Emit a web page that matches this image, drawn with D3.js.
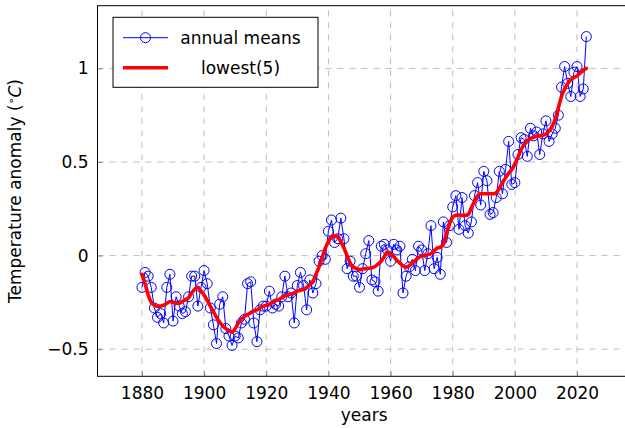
<!DOCTYPE html>
<html><head><meta charset="utf-8">
<script src="https://cdn.jsdelivr.net/npm/d3@7"></script>
<style>body{margin:0;background:#fff}svg{display:block}</style>
</head><body>
<svg id="c" width="625" height="428"></svg>
<script>
const firstYear = 1880;
const annualMeans = [
-0.17,-0.09,-0.11,-0.17,-0.28,-0.33,-0.31,-0.36,-0.17,-0.10,
-0.35,-0.22,-0.27,-0.31,-0.30,-0.22,-0.11,-0.11,-0.27,-0.17,
-0.08,-0.15,-0.28,-0.37,-0.47,-0.26,-0.22,-0.39,-0.43,-0.48,
-0.43,-0.44,-0.36,-0.34,-0.15,-0.14,-0.36,-0.46,-0.29,-0.27,
-0.27,-0.19,-0.28,-0.26,-0.27,-0.22,-0.11,-0.22,-0.20,-0.36,
-0.16,-0.09,-0.16,-0.29,-0.13,-0.20,-0.15,-0.03,-0.00,-0.02,
0.13,0.19,0.07,0.09,0.20,0.09,-0.07,-0.03,-0.11,-0.11,
-0.17,-0.07,0.01,0.08,-0.13,-0.14,-0.19,0.05,0.06,0.03,
-0.03,0.06,0.03,0.05,-0.20,-0.11,-0.06,-0.02,-0.08,0.05,
0.03,-0.08,0.01,0.16,-0.07,-0.01,-0.10,0.18,0.07,0.16,
0.26,0.32,0.14,0.31,0.16,0.12,0.18,0.32,0.39,0.27,
0.45,0.40,0.22,0.23,0.31,0.45,0.33,0.46,0.61,0.38,
0.39,0.54,0.63,0.62,0.53,0.68,0.64,0.66,0.54,0.65,
0.72,0.61,0.65,0.68,0.75,0.90,1.01,0.92,0.85,0.98,
1.01,0.85,0.89,1.17];
const lowessValues = [
-0.10,-0.15,-0.21,-0.25,-0.265,-0.27,-0.27,-0.265,-0.255,-0.245,
-0.25,-0.255,-0.255,-0.245,-0.235,-0.225,-0.20,-0.18,-0.17,-0.19,
-0.21,-0.24,-0.27,-0.30,-0.33,-0.355,-0.375,-0.39,-0.40,-0.41,
-0.39,-0.36,-0.34,-0.325,-0.315,-0.305,-0.295,-0.29,-0.28,-0.27,
-0.265,-0.26,-0.25,-0.24,-0.235,-0.225,-0.215,-0.21,-0.205,-0.20,
-0.19,-0.185,-0.18,-0.17,-0.155,-0.14,-0.10,-0.06,-0.01,0.04,
0.075,0.10,0.105,0.10,0.075,0.04,0.00,-0.04,-0.06,-0.07,
-0.075,-0.072,-0.07,-0.068,-0.065,-0.058,-0.045,-0.03,-0.005,0.02,
0.01,-0.005,-0.025,-0.04,-0.055,-0.062,-0.055,-0.04,-0.025,-0.01,
-0.002,0.0,0.005,0.01,0.025,0.04,0.045,0.06,0.12,0.17,
0.205,0.215,0.217,0.215,0.215,0.22,0.255,0.29,0.32,0.33,
0.33,0.33,0.33,0.33,0.335,0.36,0.39,0.415,0.44,0.46,
0.49,0.525,0.565,0.595,0.615,0.625,0.632,0.637,0.64,0.643,
0.65,0.665,0.69,0.73,0.79,0.85,0.89,0.92,0.94,0.952,
0.96,0.975,0.99,1.00];
const years = annualMeans.map((_, i) => firstYear + i);
const xTicks = [1880, 1900, 1920, 1940, 1960, 1980, 2000, 2020];
const yTicks = [-0.5, 0, 0.5, 1];
const legendLabels = ["annual means", "lowest(5)"];

const FONT = "DejaVu Sans";
const FS = 17;
const svg = d3.select("#c");
const L = 97.5, R = 630.8, T = 5.7, B = 376.3;
const x = d3.scaleLinear().domain([1865.7, 2037.3]).range([L, R]);
const y = d3.scaleLinear().domain([-0.645, 1.335]).range([B, T]);

svg.append("defs").append("clipPath").attr("id", "clip")
  .append("rect").attr("x", L).attr("y", T).attr("width", R - L).attr("height", B - T);

// grid
const grid = svg.append("g").attr("stroke", "#bdbdbd").attr("stroke-width", 1).attr("stroke-dasharray", "6,6");
grid.selectAll(".gx").data(xTicks).join("line")
  .attr("x1", d => x(d)).attr("x2", d => x(d)).attr("y1", B).attr("y2", T);
grid.selectAll(".gy").data(yTicks).join("line")
  .attr("x1", L).attr("x2", R).attr("y1", d => y(d)).attr("y2", d => y(d));

// axes via d3 axis (ticks inward)
const fmtY = d => d === 0 ? "0" : (d < 0 ? "\u2212" + Math.abs(d) : String(d));
const xAxis = svg.append("g").attr("transform", `translate(0,${B})`)
  .call(d3.axisBottom(x).tickValues(xTicks).tickFormat(d3.format("d")).tickSizeInner(-5).tickSizeOuter(0).tickPadding(11));
const yAxis = svg.append("g").attr("transform", `translate(${L},0)`)
  .call(d3.axisLeft(y).tickValues(yTicks).tickFormat(fmtY).tickSizeInner(-5).tickSizeOuter(0).tickPadding(9));
[xAxis, yAxis].forEach(a => {
  a.select(".domain").remove();
  a.selectAll(".tick line").attr("stroke", "#888");
  a.selectAll(".tick text").attr("font-family", FONT).attr("font-size", FS).attr("fill", "#000");
});
xAxis.selectAll(".tick text").attr("dy", "0.71em");

// data
const plot = svg.append("g").attr("clip-path", "url(#clip)");
const data = years.map((yr, i) => ({yr, v: annualMeans[i]}));
plot.append("path").datum(data)
  .attr("fill", "none").attr("stroke", "#0000ff").attr("stroke-width", 1)
  .attr("d", d3.line().x(d => x(d.yr)).y(d => y(d.v)));
plot.selectAll("circle.m").data(data).join("circle")
  .attr("cx", d => x(d.yr)).attr("cy", d => y(d.v)).attr("r", 5)
  .attr("fill", "none").attr("stroke", "#0000ff").attr("stroke-width", 1);
const smooth = years.map((yr, i) => ({yr, v: lowessValues[i]}));
plot.append("path").datum(smooth)
  .attr("fill", "none").attr("stroke", "#ff0000").attr("stroke-width", 3.6)
  .attr("stroke-linejoin", "round").attr("stroke-linecap", "round")
  .attr("d", d3.line().curve(d3.curveMonotoneX).x(d => x(d.yr)).y(d => y(d.v)));

// frame
svg.append("rect").attr("x", L).attr("y", T).attr("width", R - L).attr("height", B - T)
  .attr("fill", "none").attr("stroke", "#000").attr("stroke-width", 1);

// axis labels
svg.append("text").attr("x", (L + R) / 2).attr("y", 421)
  .attr("text-anchor", "middle").attr("font-family", FONT).attr("font-size", FS).text("years");
const yl = svg.append("text").attr("transform", `translate(21,${(T + B) / 2}) rotate(-90)`)
  .attr("text-anchor", "middle").attr("font-family", FONT).attr("font-size", FS);
yl.append("tspan").text("Temperature anomaly (");
yl.append("tspan").attr("font-size", 11).attr("dy", -6).text("\u2218");
yl.append("tspan").attr("dy", 6).attr("font-style", "italic").text("C");
yl.append("tspan").text(")");

// legend
const lg = svg.append("g");
lg.append("rect").attr("x", 113).attr("y", 17.3).attr("width", 205).attr("height", 70)
  .attr("fill", "#fff").attr("stroke", "#000").attr("stroke-width", 1);
lg.append("line").attr("x1", 123).attr("x2", 168).attr("y1", 37.7).attr("y2", 37.7)
  .attr("stroke", "#0000ff").attr("stroke-width", 1);
lg.append("circle").attr("cx", 145.5).attr("cy", 37.7).attr("r", 5)
  .attr("fill", "none").attr("stroke", "#0000ff").attr("stroke-width", 1);
lg.append("line").attr("x1", 123).attr("x2", 168).attr("y1", 67.7).attr("y2", 67.7)
  .attr("stroke", "#ff0000").attr("stroke-width", 3.6);
lg.selectAll("text.l").data(legendLabels).join("text")
  .attr("x", 240.5).attr("y", (d, i) => 37.7 + i * 30).attr("dy", "0.35em")
  .attr("text-anchor", "middle").attr("font-family", FONT).attr("font-size", FS).text(d => d);
</script>
</body></html>
